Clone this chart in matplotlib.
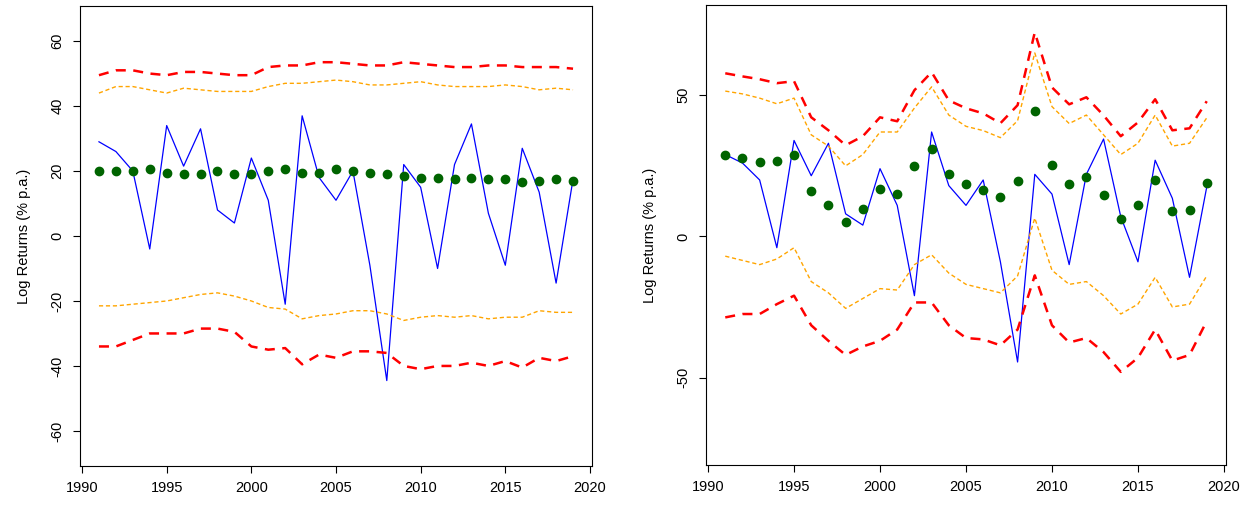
import numpy as np
import matplotlib.pyplot as plt

years = np.arange(1991, 2020)

returns = [29, 26, 20, -4, 34, 21.5, 33, 8, 4, 24, 11, -21, 37, 18, 11, 20, -9, -44.5,
           22, 15, -10, 22, 34.5, 7, -9, 27, 13.5, -14.5, 17.5]

# left panel
mean_l = [20, 20, 20, 20.5, 19.5, 19, 19, 20, 19, 19, 20, 20.5, 19.5, 19.5, 20.5, 20, 19.5,
          19, 18.5, 18, 18, 17.5, 18, 17.5, 17.5, 16.5, 17, 17.5, 17]
red_up_l = [49.5, 51, 51, 50, 49.5, 50.5, 50.5, 50, 49.5, 49.5, 52, 52.5, 52.5, 53.5, 53.5,
            53, 52.5, 52.5, 53.5, 53, 52.5, 52, 52, 52.5, 52.5, 52, 52, 52, 51.5]
org_up_l = [44, 46, 46, 45, 44, 45.5, 45, 44.5, 44.5, 44.5, 46, 47, 47, 47.5, 48, 47.5, 46.5,
            46.5, 47, 47.5, 46.5, 46, 46, 46, 46.5, 46, 45, 45.5, 45]
org_lo_l = [-21.5, -21.5, -21, -20.5, -20, -19, -18, -17.5, -18.5, -20, -22, -22.5, -25.5,
            -24.5, -24, -23, -23, -24, -26, -25, -24.5, -25, -24.5, -25.5, -25, -25, -23,
            -23.5, -23.5]
red_lo_l = [-34, -34, -32, -30, -30, -30, -28.5, -28.5, -29.5, -34, -35, -34.5, -39.5, -36.5,
            -37.5, -35.5, -35.5, -36, -40, -41, -40, -40, -39, -40, -38.5, -40.5, -37.5,
            -38.5, -37]

# right panel
mean_r = [28.7, 27.7, 26.2, 26.6, 28.7, 16, 11, 5, 9.6, 16.7, 15.2, 24.8, 30.9, 22, 18.4,
          16.3, 13.8, 19.5, 44.3, 25.2, 18.4, 20.9, 14.5, 6, 11, 19.9, 8.9, 9.2, 18.8]
red_up_r = [57.8, 56.7, 55.7, 54.3, 55, 42.2, 37.6, 32.3, 35.5, 42.2, 40.8, 51.8, 58.2, 48.2,
            45.4, 43.6, 40.1, 46.5, 72.3, 52.8, 46.8, 49.3, 42.9, 35.5, 40.4, 48.6, 37.6,
            38.3, 47.9]
org_up_r = [51.5, 50.5, 49, 47, 49, 36, 32, 25, 29, 37, 37, 45.5, 53, 43, 39, 37.5, 35, 41,
            65, 46, 40, 43, 36, 29, 33, 43, 32, 33, 42]
org_lo_r = [-7, -8.5, -10, -8, -4, -16, -20, -25.5, -22, -18.5, -19, -10, -6.5, -13, -17,
            -18.5, -20, -14, 6.5, -12, -17, -16, -21, -27.5, -24, -14.5, -25, -24, -14]
red_lo_r = [-28.7, -27.5, -27.5, -24, -21, -31.5, -37, -42, -39, -37, -33, -23.4, -23.4,
            -31.5, -36, -36.5, -38.6, -33, -13.8, -31.5, -37.6, -36, -41, -48, -43, -33,
            -44, -42, -30]

plt.rcParams['font.family'] = ['Liberation Sans', 'DejaVu Sans']
fig = plt.figure(figsize=(12.43, 5.05), dpi=100)


def panel(rect, mean, ru, ou, ol, rl, ylim, yticks):
    ax = fig.add_axes(rect)
    ax.plot(years, returns, color='blue', lw=0.9)
    ax.plot(years, ru, color='red', lw=1.8, ls=(0, (4, 3)))
    ax.plot(years, rl, color='red', lw=1.8, ls=(0, (4, 3)))
    ax.plot(years, ou, color='orange', lw=1, ls=(0, (3, 2)))
    ax.plot(years, ol, color='orange', lw=1, ls=(0, (3, 2)))
    ax.plot(years, mean, 'o', color='#006400', ms=6)
    ax.set_xlim(1989.88, 2020.12)
    ax.set_ylim(*ylim)
    ax.set_xticks(range(1990, 2021, 5))
    ax.set_yticks(yticks)
    ax.set_yticklabels([str(t) for t in yticks], rotation=90, va='center')
    ax.tick_params(labelsize=10.5, length=5, pad=6)
    ax.set_ylabel('Log Returns (% p.a.)', fontsize=10.5, labelpad=14)
    for s in ax.spines.values():
        s.set_linewidth(0.8)
    return ax


panel([80 / 1243, 39 / 505, 512 / 1243, 460 / 505], mean_l, red_up_l, org_up_l, org_lo_l,
      red_lo_l, (-70.8, 70.8), [-60, -40, -20, 0, 20, 40, 60])
panel([706 / 1243, 40 / 505, 520 / 1243, 460 / 505], mean_r, red_up_r, org_up_r, org_lo_r,
      red_lo_r, (-81, 82), [-50, 0, 50])

fig.savefig('out.png')
